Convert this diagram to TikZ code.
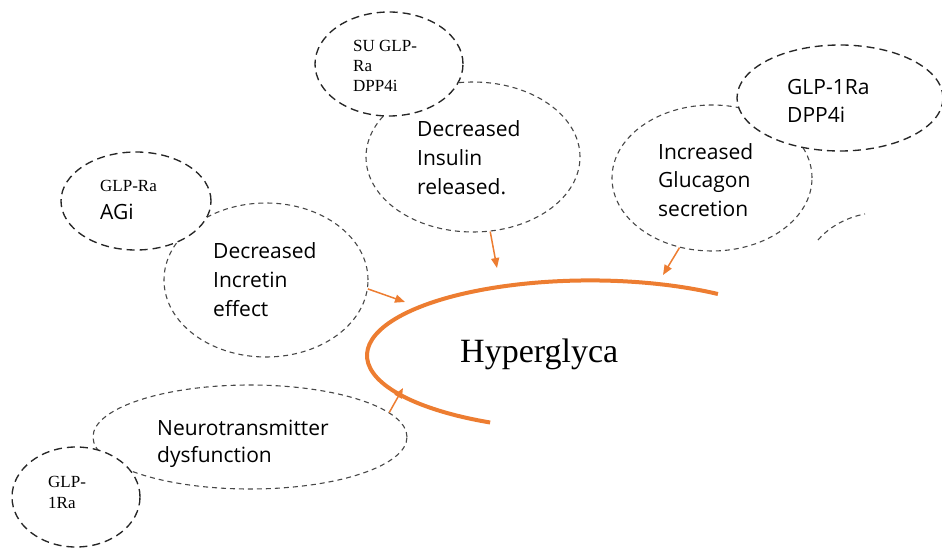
\documentclass[tikz,border=0pt]{standalone}
\usepackage{fontspec}
\setmainfont{Liberation Serif}
\newfontfamily\osans{Open Sans}
\usetikzlibrary{shapes.geometric,arrows.meta}
\definecolor{orng}{RGB}{237,125,49}
\begin{document}
\begin{tikzpicture}[x=1pt,y=-1pt,
  drug/.style={draw=black!85, fill=white, dash pattern=on 8pt off 5pt, line width=1.35pt, ellipse, inner sep=0pt},
  effect/.style={draw=black!72, dash pattern=on 5pt off 4pt, line width=1.1pt, ellipse, inner sep=0pt},
  lab/.style={anchor=base west, align=left, inner sep=0pt, font=\osans\fontsize{21}{29}\selectfont},
  serif/.style={anchor=base west, align=left, inner sep=0pt, font=\fontsize{17}{20}\selectfont},
  arr/.style={draw=orng, line width=1.5pt, -{Triangle[length=10pt,width=8pt,fill=orng]}}]
\useasboundingbox (0,0) rectangle (942,548);
\clip (0,0) rectangle (942,548);

% effect ellipses
\node[effect, minimum width=214pt, minimum height=150pt] (ins) at (473,157) {};
\node[effect, minimum width=200pt, minimum height=146pt] (glu) at (712,178) {};
\node[effect, minimum width=204pt, minimum height=154pt] (inc) at (266,280) {};
\node[effect, minimum width=314pt, minimum height=104pt] (neu) at (250,437) {};

% partial dashed arc at right
\coordinate (pa) at (818,240);
\coordinate (pb) at (865,214);
\draw[draw=black!72, dash pattern=on 5pt off 4pt, line width=1.1pt] (pa) .. controls (830,226) and (848,217) .. (pb);

% drug ellipses (on top, filled white)
\node[drug, minimum width=148pt, minimum height=104pt] (su) at (389,64) {};
\node[drug, minimum width=206pt, minimum height=106pt] (gd) at (840,98) {};
\node[drug, minimum width=150pt, minimum height=98pt] (agi) at (136,201) {};
\node[drug, minimum width=128pt, minimum height=100pt] (glb) at (76,497) {};

% texts (base anchor = last line baseline)
\node[lab] (tins) at (417,195) {Decreased\\Insulin\\released.};
\node[lab] (tglu) at (658,217) {Increased\\Glucagon\\secretion};
\node[lab] (tinc) at (213,316) {Decreased\\Incretin\\effect};
\node[lab, font=\osans\fontsize{21}{27}\selectfont] (tneu) at (157,462) {Neurotransmitter\\dysfunction};
\node[lab, font=\osans\fontsize{21}{28}\selectfont] (tgd) at (787,123) {GLP-1Ra\\DPP4i};
\node[serif] (tsu) at (353,92) {SU GLP-\\Ra\\DPP4i};
\node[serif] (tagi1) at (100,192) {GLP-Ra};
\node[lab] (tagi2) at (100,219) {AGi};
\node[serif, font=\fontsize{17}{21}\selectfont] (tglb) at (48,508) {GLP-\\1Ra};

% hyperglycaemia arc
\coordinate (hs) at (717.9,294);
\draw[orng, line width=4pt] (hs) arc[start angle=-55, end angle=-243.4, x radius=223, y radius=75];
\node[anchor=base west, inner sep=0pt, font=\fontsize{34}{40}\selectfont] (hyp) at (460,362) {Hyperglyca};

% arrows
\coordinate (ains) at (497,268);
\coordinate (aglu) at (663,275);
\coordinate (ainc) at (405,302);
\coordinate (aneu) at (403,388);
\draw[arr] (ins.-77) -- (ains);
\draw[arr] (glu.-115) -- (aglu);
\draw[arr] (inc.-5.6) -- (ainc);
\draw[arr] (neu.10.9) -- (aneu);
\end{tikzpicture}
\end{document}
